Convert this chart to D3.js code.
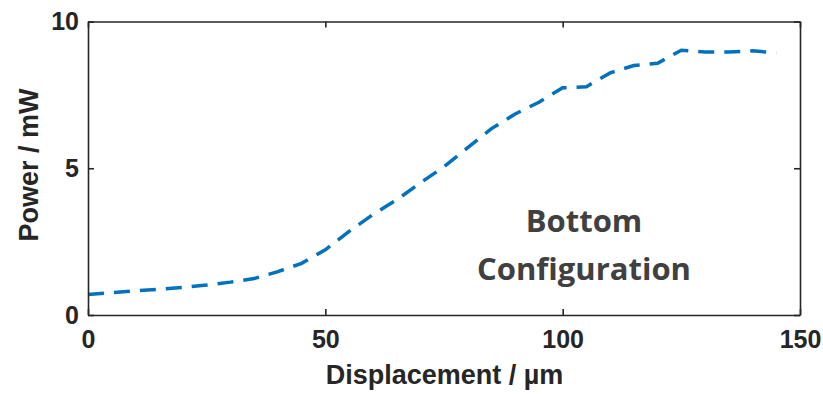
<!DOCTYPE html>
<html>
<head>
<meta charset="utf-8">
<script src="https://cdn.jsdelivr.net/npm/d3@7"></script>
<style>
  body { margin: 0; background: #fff; }
  svg { display: block; }
</style>
</head>
<body>
<div id="chart"></div>
<script>
// displacement in um, power in mW
const displacement = [0, 5, 10, 15, 20, 25, 30, 35, 40, 45, 50, 55, 60, 65, 70, 75,
  80, 85, 90, 95, 100, 105, 110, 115, 120, 125, 130, 135, 140, 145];
const power = [0.70, 0.76, 0.82, 0.88, 0.94, 1.02, 1.12, 1.24, 1.48, 1.76, 2.22, 2.85, 3.42, 3.92, 4.50, 5.05,
  5.70, 6.35, 6.85, 7.25, 7.74, 7.78, 8.25, 8.50, 8.58, 9.02, 8.96, 8.96, 9.00, 8.93];
const xTicks = [0, 50, 100, 150];
const yTicks = [0, 5, 10];

const W = 823, H = 394;
const margin = {top: 21.5, right: 23, bottom: 79, left: 88};
const width = W - margin.left - margin.right,
  height = H - margin.top - margin.bottom;

const x = d3.scaleLinear().domain([0, 150]).range([0, width]);
const y = d3.scaleLinear().domain([0, 10]).range([height, 0]);

const svg = d3.select('#chart').append('svg')
  .attr('width', W)
  .attr('height', H)
  .append('g')
  .attr('transform', `translate(${margin.left},${margin.top})`);

const axisColor = '#262626';
const tickFont = "'Liberation Sans', Arial, sans-serif";

// the curve
const line = d3.line()
  .x((d, i) => x(displacement[i]))
  .y(d => y(d));

svg.append('path')
  .datum(power)
  .attr('fill', 'none')
  .attr('stroke', '#0072BD')
  .attr('stroke-width', 3.5)
  .attr('stroke-dasharray', '16,10')
  .attr('d', line);

// axes
const xAxis = d3.axisBottom(x).tickValues(xTicks).tickSizeInner(-6).tickSizeOuter(0).tickPadding(15);
const yAxis = d3.axisLeft(y).tickValues(yTicks).tickSizeInner(-6).tickSizeOuter(0).tickPadding(9);

const gx = svg.append('g')
  .attr('transform', `translate(0,${height})`)
  .call(xAxis);
const gy = svg.append('g').call(yAxis);

// mirrored axes on top / right
svg.append('g')
  .call(d3.axisTop(x).tickValues(xTicks).tickSizeInner(-6).tickSizeOuter(0).tickFormat(''));
svg.append('g')
  .attr('transform', `translate(${width},0)`)
  .call(d3.axisRight(y).tickValues(yTicks).tickSizeInner(-6).tickSizeOuter(0).tickFormat(''));

svg.selectAll('.domain, .tick line')
  .attr('stroke', axisColor)
  .attr('stroke-width', 1.6);

[gx, gy].forEach(g => g.attr('font-family', null).attr('font-size', null)
  .selectAll('text')
  .style('font-family', tickFont)
  .style('font-size', '25px')
  .style('font-weight', 'bold')
  .attr('fill', axisColor));

// axis titles
svg.append('text')
  .attr('x', 444.5 - margin.left)
  .attr('y', 384 - margin.top)
  .attr('text-anchor', 'middle')
  .style('font-family', tickFont)
  .style('font-size', '27px')
  .style('font-weight', 'bold')
  .attr('fill', axisColor)
  .text('Displacement / µm');

svg.append('text')
  .attr('transform', 'rotate(-90)')
  .attr('x', -(165 - margin.top))
  .attr('y', 38 - margin.left)
  .attr('text-anchor', 'middle')
  .style('font-family', tickFont)
  .style('font-size', '27px')
  .style('font-weight', 'bold')
  .attr('fill', axisColor)
  .text('Power / mW');

// annotation
const note = svg.append('text')
  .attr('text-anchor', 'middle')
  .style('font-family', "'Open Sans', Lato, sans-serif")
  .style('font-size', '31px')
  .style('font-weight', 'bold')
  .attr('fill', '#404040');
note.append('tspan').attr('x', 584 - margin.left).attr('y', 232 - margin.top).text('Bottom');
note.append('tspan').attr('x', 584 - margin.left).attr('y', 280 - margin.top).text('Configuration');
</script>
</body>
</html>
